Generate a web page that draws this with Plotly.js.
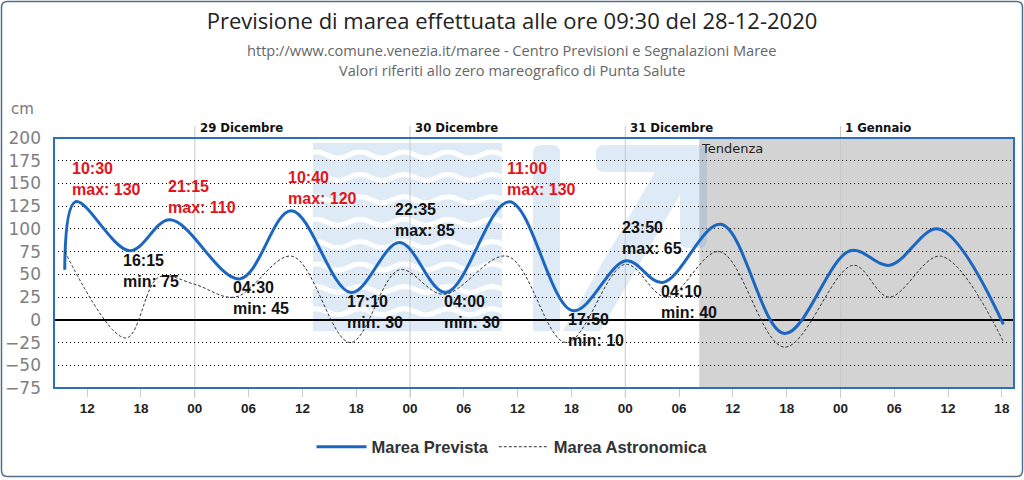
<!DOCTYPE html>
<html>
<head>
<meta charset="utf-8">
<script src="https://cdn.plot.ly/plotly-3.0.1.min.js"></script>
<style>
  html, body { margin: 0; padding: 0; background: #ffffff; }
  #chart { width: 1024px; height: 480px; }
</style>
</head>
<body>
<div id="chart"></div>
<script>
// ---------------- DATA ----------------
const forecastTimes = ['2020-12-28 09:30','2020-12-28 10:43','2020-12-28 16:45','2020-12-28 21:15','2020-12-29 05:00','2020-12-29 10:45','2020-12-29 17:25','2020-12-29 22:50','2020-12-30 04:00','2020-12-30 11:05','2020-12-30 18:10','2020-12-31 00:05','2020-12-31 04:10','2020-12-31 10:40','2020-12-31 17:45','2021-01-01 01:05','2021-01-01 05:30','2021-01-01 10:55','2021-01-01 18:10'];
const forecastValues = [55,130,76,110,45,120,30,85,30,130,10,65,41,105,-15,76,60,100,-5];

const astroTimes = ['2020-12-28 09:30','2020-12-28 16:20','2020-12-28 20:00','2020-12-29 00:00','2020-12-29 04:30','2020-12-29 10:50','2020-12-29 17:20','2020-12-29 22:50','2020-12-30 03:45','2020-12-30 10:50','2020-12-30 17:25','2020-12-31 00:00','2020-12-31 04:35','2020-12-31 10:30','2020-12-31 17:45','2021-01-01 01:25','2021-01-01 05:25','2021-01-01 11:10','2021-01-01 18:10'];
const astroValues = [75,-20,47,39,25,70,-25,55,28,70,-25,61,25,75,-30,60,25,70,-24];

const extremeTimes = ['2020-12-28 10:30','2020-12-28 16:15','2020-12-28 21:15','2020-12-29 04:30','2020-12-29 10:40','2020-12-29 17:10','2020-12-29 22:35','2020-12-30 04:00','2020-12-30 11:00','2020-12-30 17:50','2020-12-30 23:50','2020-12-31 04:10'];
const extremeKinds = ['max','min','max','min','max','min','max','min','max','min','max','min'];
const extremeValues = [130,75,110,45,120,30,85,30,130,10,65,40];
const alertThreshold = 110;

const dayStarts = ['2020-12-29','2020-12-30','2020-12-31','2021-01-01'];
const dayNames = ['29 Dicembre','30 Dicembre','31 Dicembre','1 Gennaio'];

const tendenzaStart = '2020-12-31 08:15';
const xRange = ['2020-12-28 08:18','2021-01-01 19:21'];
const yRange = [-75, 200];

const titleText = 'Previsione di marea effettuata alle ore 09:30 del 28-12-2020';
const subtitleLines = ['http://www.comune.venezia.it/maree - Centro Previsioni e Segnalazioni Maree',
                       'Valori riferiti allo zero mareografico di Punta Salute'];
const seriesNames = ['Marea Prevista','Marea Astronomica'];

// ---------------- LAYOUT HELPERS ----------------
const W = 1024, H = 480;
const M = {l: 54, r: 10, t: 138, b: 92};
const PW = W - M.l - M.r, PH = H - M.t - M.b;
const px = x => ((x - M.l) / PW).toFixed(5);
const py = y => ((H - M.b - y) / PH).toFixed(5);
const P = (x, y) => px(x) + ',' + py(y);

const WM = 'rgba(90,150,210,0.2)';
const shapes = [];

// Tendenza grey area
shapes.push({type:'rect', xref:'x', yref:'paper', x0: tendenzaStart, x1: xRange[1], y0:0, y1:1,
  fillcolor:'#d3d3d3', line:{width:0}, layer:'below'});

// Watermark: waves block
shapes.push({type:'path', xref:'paper', yref:'paper', layer:'below', fillcolor:WM, line:{width:0},
  path: 'M' + P(313,143) + ' L' + P(502,143) + ' L' + P(502,331) + ' L' + P(313,331) + ' Z'});
for (let k = 0; k < 8; k++) {
  const y0 = 155 + k * 22.4;
  let d = 'M' + P(305, y0);
  const wl = 44, amp = 3;
  let x = 305;
  d += ' Q' + P(x + wl/4, y0 - amp*2) + ' ' + P(x + wl/2, y0);
  x += wl/2;
  while (x < 502) { x += wl/2; d += ' T' + P(x, y0); }
  shapes.push({type:'path', xref:'paper', yref:'paper', layer:'below', line:{color:'#ffffff', width:5}, path:d});
}
// trim wave overflow on both sides
shapes.push({type:'rect', xref:'paper', yref:'paper', layer:'below', fillcolor:'#ffffff', line:{width:0},
  x0: px(502), x1: px(532), y0: py(331), y1: py(140)});
shapes.push({type:'rect', xref:'paper', yref:'paper', layer:'below', fillcolor:'#ffffff', line:{width:0},
  x0: px(290), x1: px(313), y0: py(331), y1: py(140)});
// Watermark: vertical bar
shapes.push({type:'path', xref:'paper', yref:'paper', layer:'below', fillcolor:WM, line:{width:0},
  path: 'M' + P(533,331) + ' L' + P(533,153) + ' Q' + P(533,145) + ' ' + P(541,145) + ' L' + P(552,145) +
        ' Q' + P(560,145) + ' ' + P(560,153) + ' L' + P(560,331) + ' Z'});
// Watermark: arrow
shapes.push({type:'path', xref:'paper', yref:'paper', layer:'below', fillcolor:WM, line:{width:0},
  path: 'M' + P(604,145) + ' L' + P(699,145) + ' Q' + P(707,145) + ' ' + P(707,153) + ' L' + P(707,240) +
        ' Q' + P(707,248) + ' ' + P(699,248) + ' L' + P(688,248) + ' Q' + P(680,248) + ' ' + P(680,240) +
        ' L' + P(680,195) + ' L' + P(600,331) + ' L' + P(563,331) + ' L' + P(655,172) + ' L' + P(604,172) +
        ' Q' + P(596,172) + ' ' + P(596,164) + ' L' + P(596,153) + ' Q' + P(596,145) + ' ' + P(604,145) + ' Z'});

// Day separator lines
dayStarts.forEach(d => shapes.push({type:'line', xref:'x', yref:'paper', x0:d, x1:d,
  y0: py(398), y1: py(126), line:{color:'#c8c8c8', width:1}, layer:'below'}));

// Plot frame
shapes.push({type:'rect', xref:'paper', yref:'paper', x0:0, x1:1, y0:0, y1:1,
  line:{color:'#2a6fc0', width:2}, layer:'above'});
// Outer rounded frame
const r = 6, L = 1.5, T = 1.5, R = 1022.5, B = 476.5;
shapes.push({type:'path', xref:'paper', yref:'paper', layer:'above', line:{color:'#4f6e8c', width:1.5},
  path: 'M' + P(L + r, T) + ' L' + P(R - r, T) + ' Q' + P(R, T) + ' ' + P(R, T + r) + ' L' + P(R, B - r) +
        ' Q' + P(R, B) + ' ' + P(R - r, B) + ' L' + P(L + r, B) + ' Q' + P(L, B) + ' ' + P(L, B - r) +
        ' L' + P(L, T + r) + ' Q' + P(L, T) + ' ' + P(L + r, T) + ' Z'});

// ---------------- ANNOTATIONS ----------------
const annotations = [];
const labelFont = {family:'Liberation Sans, Arial, sans-serif', size:16, weight:'bold'};
extremeTimes.forEach((t, i) => {
  const isMax = extremeKinds[i] === 'max';
  const color = (isMax && extremeValues[i] >= alertThreshold) ? '#e3131b' : '#111111';
  annotations.push({
    x: t, y: extremeValues[i], xref:'x', yref:'y',
    text: t.slice(11,16) + '<br>' + extremeKinds[i] + ': ' + extremeValues[i],
    showarrow:false, xanchor:'left', align:'left',
    yanchor: isMax ? 'bottom' : 'top', yshift: 2, xshift: -4,
    font: Object.assign({color: color}, labelFont)
  });
});
dayStarts.forEach((d, i) => annotations.push({
  x: d, y: py(128), xref:'x', yref:'paper', text: dayNames[i], showarrow:false,
  xanchor:'left', yanchor:'middle', xshift: 3,
  font:{family:'DejaVu Sans Condensed, DejaVu Sans, sans-serif', size:13, weight:'bold', color:'#111'}
}));
annotations.push({x: tendenzaStart, y: 1, xref:'x', yref:'paper', text:'Tendenza', showarrow:false,
  xanchor:'left', yanchor:'top', xshift: 0, yshift: -1,
  font:{family:'DejaVu Sans, sans-serif', size:13, color:'#222'}});
subtitleLines.forEach((s, i) => annotations.push({
  x: px(512), y: py(50 + 20 * i), xref:'paper', yref:'paper', text: s, showarrow:false,
  xanchor:'center', yanchor:'middle',
  font:{family:'Open Sans, sans-serif', size:14.6, color:'#666'}
}));
annotations.push({x: px(22), y: py(109), xref:'paper', yref:'paper', text:'cm', showarrow:false,
  xanchor:'center', yanchor:'middle', font:{family:'DejaVu Sans, sans-serif', size:15, color:'#777'}});

// ---------------- TRACES ----------------
const traces = [
  {x: forecastTimes, y: forecastValues, name: seriesNames[0], type:'scatter', mode:'lines',
   line:{color:'#1a66c0', width:3, shape:'spline', smoothing:1}},
  {x: astroTimes, y: astroValues, name: seriesNames[1], type:'scatter', mode:'lines',
   line:{color:'#333333', width:1, dash:'3px,2px', shape:'spline', smoothing:1}}
];

const layout = {
  width: W, height: H,
  margin: {l: M.l, r: M.r, t: M.t, b: M.b, pad: 0},
  paper_bgcolor: '#ffffff', plot_bgcolor: 'rgba(0,0,0,0)',
  title: {text: titleText, x: 0.5, xanchor:'center', xref:'container', y: 1 - 21 / H, yanchor:'middle', yref:'container',
          font:{family:'Open Sans, sans-serif', size:22, color:'#222'}},
  showlegend: true,
  legend: {orientation:'h', x: px(512), xanchor:'center', y: py(447), yanchor:'middle',
           font:{family:'Liberation Sans, Arial, sans-serif', size:16.5, weight:'bold', color:'#333'},
           itemwidth: 50, tracegroupgap: 0},
  xaxis: {type:'date', range: xRange, showgrid:false, zeroline:false, showline:false,
          tick0:'2020-12-28 00:00', dtick: 6 * 3600 * 1000, tickformat:'%H',
          ticks:'outside', ticklen: 8, tickcolor:'#cccccc', tickwidth:1,
          tickfont:{family:'Liberation Sans, Arial, sans-serif', size:13.5, weight:'bold', color:'#222'}},
  yaxis: {range: yRange, dtick: 25, tick0: 0, showgrid:true, gridcolor:'#000000', griddash:'1px,3px', gridwidth:1,
          zeroline:true, zerolinecolor:'#000000', zerolinewidth:2, showline:false, ticks:'',
          ticklabelstandoff: 12,
          tickfont:{family:'DejaVu Sans, sans-serif', size:17, color:'#808080'}},
  shapes: shapes,
  annotations: annotations
};

Plotly.newPlot('chart', traces, layout, {staticPlot:true, displayModeBar:false});
</script>
</body>
</html>
